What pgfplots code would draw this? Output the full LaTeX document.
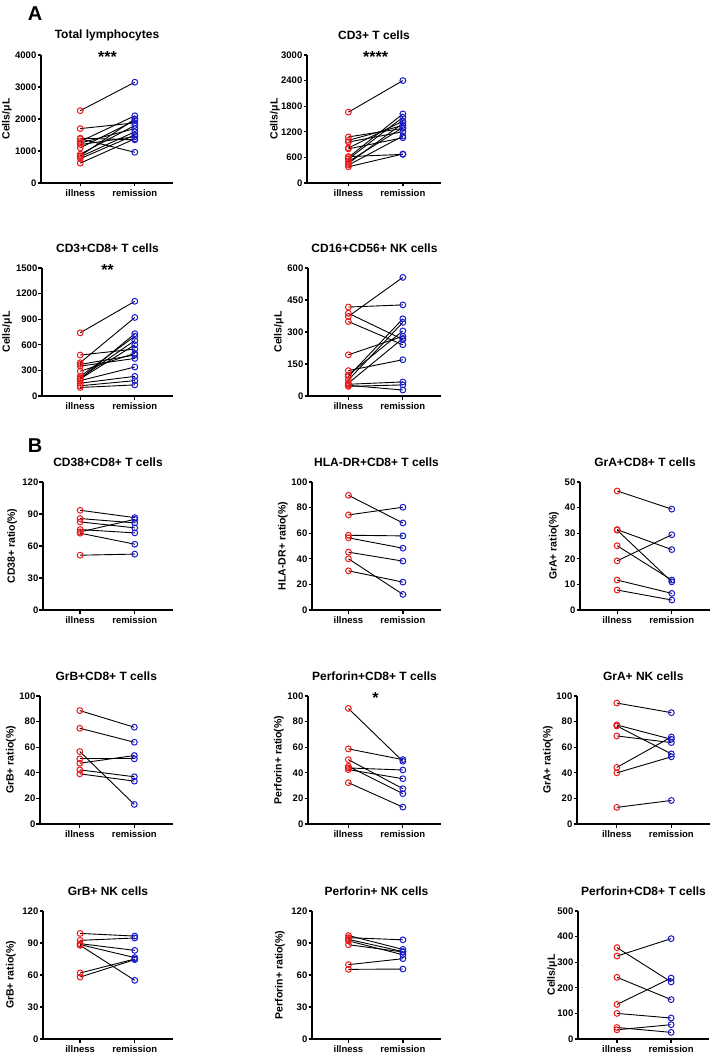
\documentclass[border=0pt]{standalone}
\usepackage{fontspec}
\setmainfont{Liberation Sans}
\usepackage{pgfplots}
\usepackage{pgfplotstable}
\pgfplotsset{compat=1.18}

\definecolor{ptred}{RGB}{235,25,25}
\definecolor{ptblue}{RGB}{25,25,205}

% illness -> remission pairs, one table per panel
\pgfplotstableread{
ill rem
2260 3150
1700 1880
1400 1350
1380 960
1300 2100
1250 1700
1200 1450
1100 1950
900 1800
850 2000
820 1600
760 1500
620 1380
}\tTotal
\pgfplotstableread{
ill rem
1660 2400
1080 1280
1000 1350
960 1200
820 1450
800 1060
620 670
600 1620
560 1540
500 1300
460 1400
420 1100
380 680
}\tCDthree
\pgfplotstableread{
ill rem
740 1110
480 550
390 920
370 480
350 440
290 500
230 700
210 650
200 730
180 340
150 230
120 180
100 130
200 600
}\tCDeight
\pgfplotstableread{
ill rem
417 427
373 556
388 265
349 240
193 280
119 170
99 305
91 362
75 345
60 270
55 66
50 28
45 52
}\tNK
\pgfplotstableread{
ill rem
93.5 86.6
85.7 81.7
82.6 77
73.2 85
75.4 72.3
72 61.7
51.4 52.4
}\tCDtt
\pgfplotstableread{
ill rem
89.6 68
74.3 80.3
58.4 57.9
56.4 48.3
45.2 38.2
40 12.2
30.6 21.8
}\tHLA
\pgfplotstableread{
ill rem
46.5 39.4
31.4 23.6
31.2 11.0
25.1 11.7
19.2 29.4
11.7 6.5
7.8 3.9
}\tGrAT
\pgfplotstableread{
ill rem
88.6 75.6
74.8 63.9
56.6 15.3
50.9 50.9
47.5 53.5
42.3 36.9
39.2 33.5
}\tGrBT
\pgfplotstableread{
ill rem
90.3 49
58.7 50.3
50.3 27.6
45.1 23.7
43.8 42.2
42.5 35.4
32.3 13.2
}\tPerfT
\pgfplotstableread{
ill rem
94.5 87
77.4 66.2
76.6 54.8
68.8 63.6
44.2 68
40 52.5
13 18.4
}\tGrANK
\pgfplotstableread{
ill rem
99 96.5
92.5 94.7
89.4 83.1
88.5 76.3
87.8 55
61.9 75
58.1 74.4
}\tGrBNK
\pgfplotstableread{
ill rem
97 84
95 93
93.4 82
92 79
88.4 81.6
69.7 75.3
65.3 65.6
}\tPerfNK
\pgfplotstableread{
ill rem
357 223
324 392
241 154
135 238
100 82
45 26
36 56
}\tPerfCount

\newcommand{\pairs}[1]{%
  \addplot[black, line width=0.9pt, quiver={u=1, v=\thisrow{rem}-\thisrow{ill}}] table[x expr=0, y=ill]{#1};
  \addplot[only marks, mark=o, mark size=2.9pt, ptred, mark options={fill=white, line width=1pt}] table[x expr=0, y=ill]{#1};
  \addplot[only marks, mark=o, mark size=2.9pt, ptblue, mark options={fill=white, line width=1pt}] table[x expr=1, y=rem]{#1};
}
\newcommand{\stars}[2]{%
  \node[font=\bfseries\fontsize{16}{16}\selectfont, anchor=base, yshift=-7.4pt] at (axis cs:0.5,#1) {#2};
}

\pgfplotsset{
  pp/.style={
    scale only axis, height=128pt, anchor=south west,
    axis lines=left, axis line style={-, line width=1.3pt},
    xmax=1.7, ymin=0,
    xtick={0,1}, xticklabels={illness,remission},
    tick style={black, line width=1.3pt},
    tick align=outside, major tick length=3.5pt,
    tick label style={font=\bfseries\fontsize{9.5}{11}\selectfont},
    yticklabel style={inner sep=1pt},
    /pgf/number format/assume math mode=true,
    /pgf/number format/1000 sep={},
    scaled ticks=false,
    title style={font=\bfseries\fontsize{12}{14}\selectfont, at={(axis description cs:0.5,1)}, anchor=center, yshift=14pt},
    ylabel style={font=\bfseries\fontsize{10.5}{12}\selectfont, anchor=center},
    clip=false,
  },
}

\begin{document}
\begin{tikzpicture}

\node[font=\bfseries\fontsize{20}{20}\selectfont] at (35pt,-14pt) {A};
\node[font=\bfseries\fontsize{20}{20}\selectfont] at (35pt,-446pt) {B};

% ---- A ----
\begin{axis}[pp, at={(41pt,-183pt)}, width=132pt, xmin=-0.72,
  ymax=4000, ytick={0,1000,...,4000}, title={Total lymphocytes},
  ylabel={Cells/μL}, ylabel style={at={(axis description cs:-0.258,0.5)}}]
\pairs{\tTotal}
\stars{4000}{***}
\end{axis}

\begin{axis}[pp, at={(307pt,-183pt)}, width=134pt, xmin=-0.76,
  ymax=3000, ytick={0,600,...,3000}, title={CD3+ T cells},
  ylabel={Cells/μL}, ylabel style={at={(axis description cs:-0.239,0.5)}}]
\pairs{\tCDthree}
\stars{3000}{****}
\end{axis}

\begin{axis}[pp, at={(42pt,-396pt)}, width=131pt, xmin=-0.70,
  ymax=1500, ytick={0,300,...,1500}, title={CD3+CD8+ T cells},
  ylabel={Cells/μL}, ylabel style={at={(axis description cs:-0.267,0.5)}}]
\pairs{\tCDeight}
\stars{1500}{**}
\end{axis}

\begin{axis}[pp, at={(308pt,-396pt)}, width=133pt, xmin=-0.74,
  ymax=600, ytick={0,150,...,600}, title={CD16+CD56+ NK cells},
  ylabel={Cells/μL}, ylabel style={at={(axis description cs:-0.218,0.5)}}]
\pairs{\tNK}
\end{axis}

% ---- B, row 1 ----
\begin{axis}[pp, at={(43pt,-610pt)}, width=130pt, xmin=-0.68,
  ymax=120, ytick={0,30,...,120}, title={CD38+CD8+ T cells},
  ylabel={CD38+ ratio(\%)}, ylabel style={at={(axis description cs:-0.238,0.5)}}]
\pairs{\tCDtt}
\end{axis}

\begin{axis}[pp, at={(312pt,-610pt)}, width=129pt, xmin=-0.67,
  ymax=100, ytick={0,20,...,100}, title={HLA-DR+CD8+ T cells},
  ylabel={HLA-DR+ ratio(\%)}, ylabel style={at={(axis description cs:-0.225,0.5)}}]
\pairs{\tHLA}
\end{axis}

\begin{axis}[pp, at={(580pt,-610pt)}, width=130pt, xmin=-0.68,
  ymax=50, ytick={0,10,...,50}, title={GrA+CD8+ T cells},
  ylabel={GrA+ ratio(\%)}, ylabel style={at={(axis description cs:-0.2,0.5)}}]
\pairs{\tGrAT}
\end{axis}

% ---- B, row 2 ----
\begin{axis}[pp, at={(40pt,-824pt)}, width=132.5pt, xmin=-0.73,
  ymax=100, ytick={0,20,...,100}, title={GrB+CD8+ T cells},
  ylabel={GrB+ ratio(\%)}, ylabel style={at={(axis description cs:-0.219,0.5)}}]
\pairs{\tGrBT}
\end{axis}

\begin{axis}[pp, at={(308pt,-824pt)}, width=133pt, xmin=-0.74,
  ymax=100, ytick={0,20,...,100}, title={Perforin+CD8+ T cells},
  ylabel={Perforin+ ratio(\%)}, ylabel style={at={(axis description cs:-0.218,0.5)}}]
\pairs{\tPerfT}
\stars{100}{*}
\end{axis}

\begin{axis}[pp, at={(577pt,-824pt)}, width=132.5pt, xmin=-0.73,
  ymax=100, ytick={0,20,...,100}, title={GrA+ NK cells},
  ylabel={GrA+ ratio(\%)}, ylabel style={at={(axis description cs:-0.219,0.5)}}]
\pairs{\tGrANK}
\end{axis}

% ---- B, row 3 ----
\begin{axis}[pp, at={(43pt,-1039pt)}, width=130pt, xmin=-0.68,
  ymax=120, ytick={0,30,...,120}, title={GrB+ NK cells},
  ylabel={GrB+ ratio(\%)}, ylabel style={at={(axis description cs:-0.246,0.5)}}]
\pairs{\tGrBNK}
\end{axis}

\begin{axis}[pp, at={(312pt,-1039pt)}, width=129pt, xmin=-0.67,
  ymax=120, ytick={0,30,...,120}, title={Perforin+ NK cells},
  ylabel={Perforin+ ratio(\%)}, ylabel style={at={(axis description cs:-0.248,0.5)}}]
\pairs{\tPerfNK}
\end{axis}

\begin{axis}[pp, at={(578pt,-1039pt)}, width=131pt, xmin=-0.72,
  ymax=500, ytick={0,100,...,500}, title={Perforin+CD8+ T cells},
  ylabel={Cells/μL}, ylabel style={at={(axis description cs:-0.198,0.5)}}]
\pairs{\tPerfCount}
\end{axis}

\pgfresetboundingbox
\path[use as bounding box] (0,0) rectangle (711pt,-1056pt);
\end{tikzpicture}
\end{document}
